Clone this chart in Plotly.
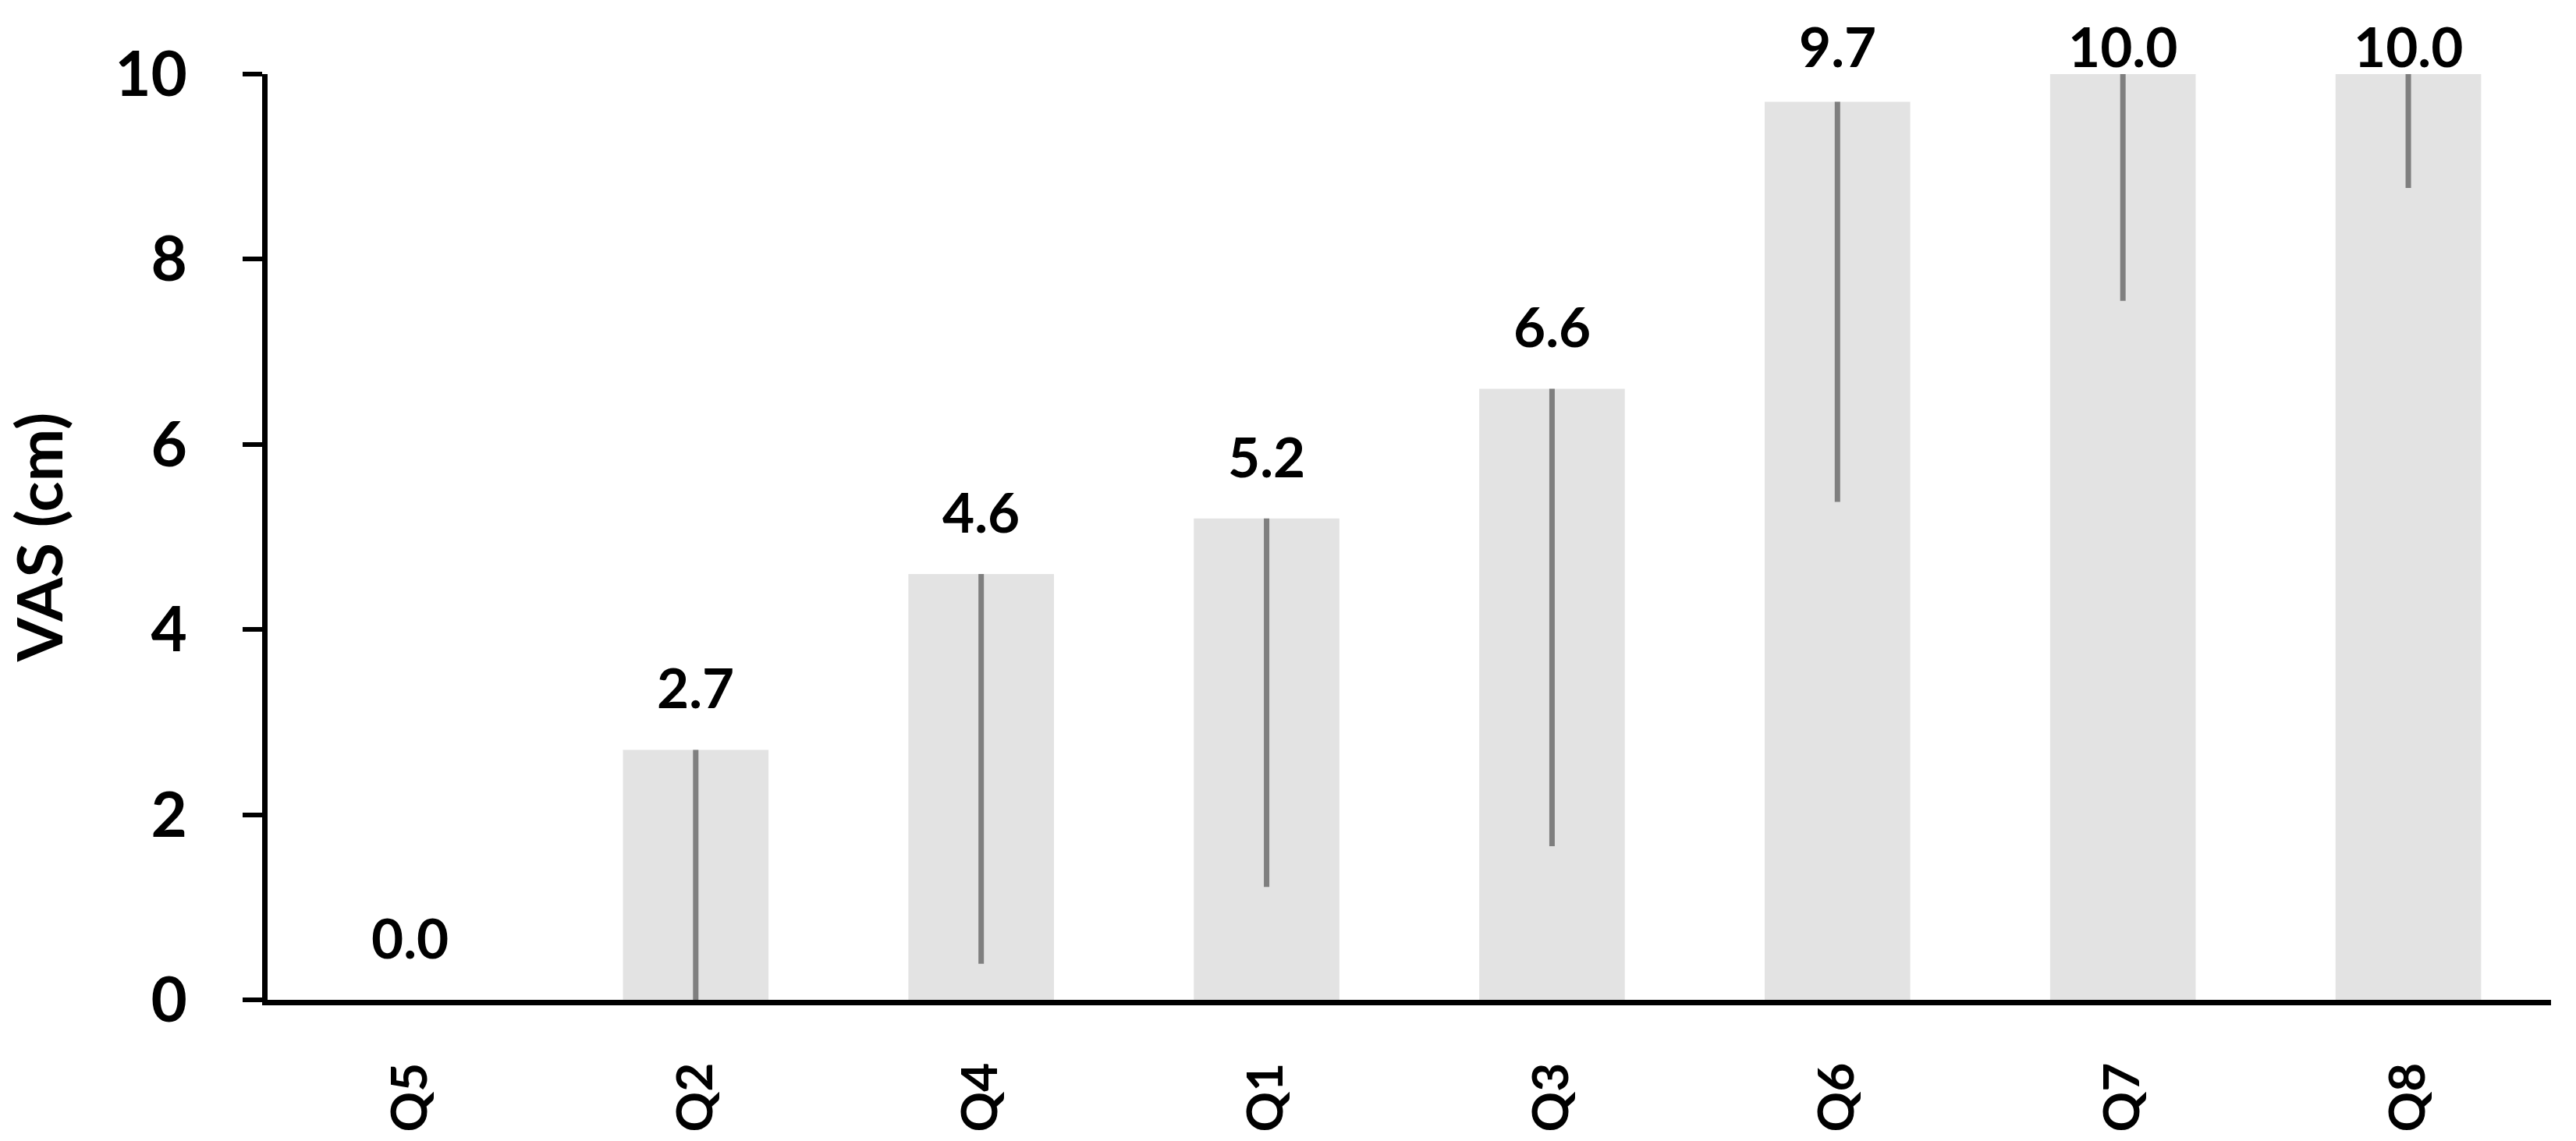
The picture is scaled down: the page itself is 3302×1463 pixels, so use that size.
import plotly.graph_objects as go

# ---- data ----
categories = ["Q5", "Q2", "Q4", "Q1", "Q3", "Q6", "Q7", "Q8"]
values = [0.0, 2.7, 4.6, 5.2, 6.6, 9.7, 10.0, 10.0]
range_low = [0.0, 0.0, 0.39, 1.22, 1.66, 5.38, 7.55, 8.77]
y_ticks = [0, 2, 4, 6, 8, 10]
y_title = "VAS (cm)"

# ---- style ----
FONT = "Lato"
BAR_COLOR = "#E3E3E3"
ERR_COLOR = "#7F7F7F"
W, H = 3302, 1463
Y_MAX = 10

err_minus = [v - lo for v, lo in zip(values, range_low)]
err_plus = [0 for _ in values]

fig = go.Figure()
fig.add_trace(go.Bar(
    x=categories,
    y=values,
    marker=dict(color=BAR_COLOR, line=dict(width=0)),
    error_y=dict(
        type="data",
        symmetric=False,
        array=err_plus,
        arrayminus=err_minus,
        color=ERR_COLOR,
        thickness=7,
        width=0,
    ),
    cliponaxis=False,
    showlegend=False,
))

# value labels above bars (Excel-like, clamped just above the plot top)
LABEL_GAP = 0.44
LABEL_CAP = 10.07
for c, v in zip(categories, values):
    fig.add_annotation(
        x=c, y=min(v + LABEL_GAP, LABEL_CAP) / Y_MAX,
        xref="x", yref="y domain",
        text=f"{v:.1f}",
        showarrow=False,
        yanchor="bottom",
        yshift=-16,
        font=dict(family=FONT, size=71, color="black", weight="bold"),
    )

fig.update_layout(
    width=W, height=H,
    margin=dict(l=343, r=32, t=95, b=176, pad=0),
    paper_bgcolor="white",
    plot_bgcolor="white",
    bargap=0.49,
    font=dict(family=FONT, color="black"),
)

fig.update_xaxes(
    type="category",
    range=[-0.5, len(categories) - 0.5],
    showline=True, linecolor="black", linewidth=7,
    ticks="", showgrid=False, zeroline=False,
    tickangle=-90,
    tickfont=dict(family=FONT, size=64, color="black", weight="bold"),
    ticklabelstandoff=48,
)

fig.update_yaxes(
    range=[0, Y_MAX],
    tickvals=y_ticks,
    showline=True, linecolor="black", linewidth=7,
    ticks="outside", ticklen=25, tickwidth=6, tickcolor="black",
    showgrid=False, zeroline=False,
    tickfont=dict(family=FONT, size=80, color="black", weight="bold"),
    ticklabelstandoff=55,
    title=dict(text=y_title, font=dict(family=FONT, size=81, color="black", weight="bold"), standoff=55),
)

fig.write_html(
    "out.html",
    config={"displayModeBar": False},
    post_script="document.body.style.margin='0';document.body.style.overflow='hidden';",
)
